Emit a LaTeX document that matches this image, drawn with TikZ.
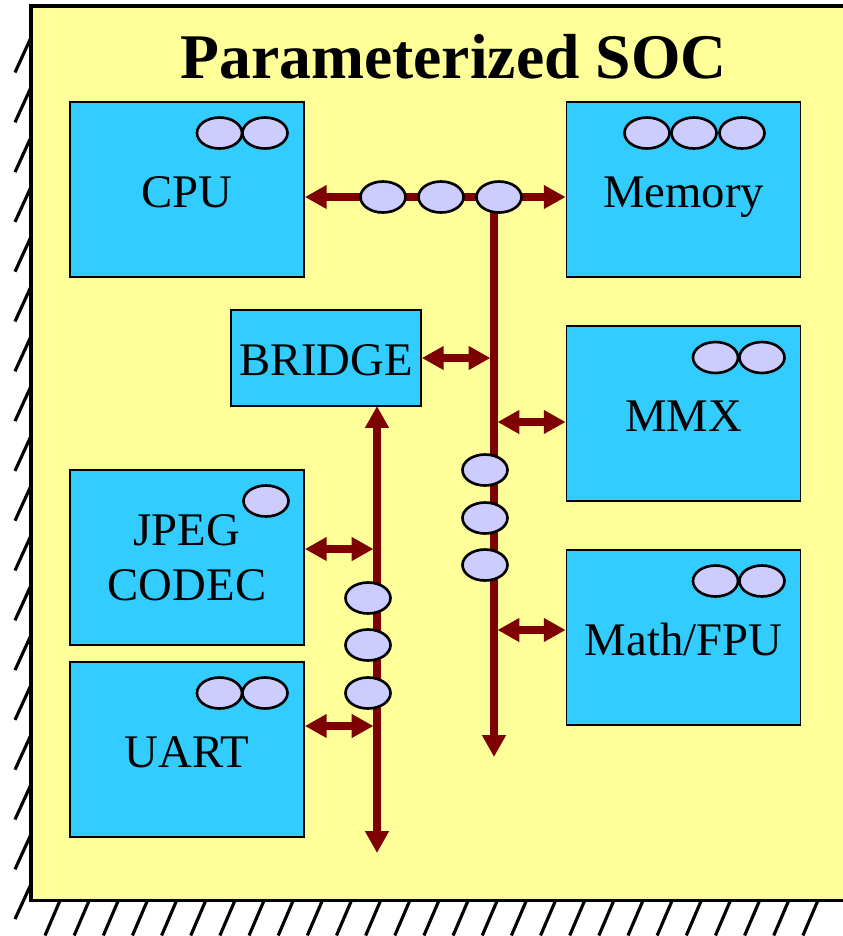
\documentclass[tikz,border=0pt]{standalone}
\usepackage{fontspec}
\setmainfont{Liberation Serif}
\usetikzlibrary{arrows.meta,shapes.geometric}
\definecolor{socyellow}{HTML}{FFFF99}
\definecolor{unitblue}{HTML}{33CCFF}
\definecolor{buscolor}{HTML}{7F0000}
\definecolor{tokencolor}{HTML}{CCCCFF}
\begin{document}
\begin{tikzpicture}[x=0.1mm, y=-0.1mm, >={Triangle[length=6.2pt,width=6.4pt]},
    unit/.style={draw, line width=0.5pt, fill=unitblue, minimum width=23.4mm, minimum height=17.5mm, inner sep=0pt, font=\fontsize{13.3}{15.6}\selectfont},
    lbl/.style={text height=10.2pt, text depth=0pt},
    token/.style={ellipse, draw, line width=0.75pt, fill=tokencolor, minimum width=4.5mm, minimum height=3.1mm, inner sep=0pt},
    bus/.style={buscolor, line width=2pt},
    hatch/.style={line width=0.9pt}]
  \useasboundingbox (0,0) rectangle (843,936);
  % chip outline with ground hatching
  \fill[socyellow] (31,5.7) rectangle (843,900.5);
  \draw[line width=1.1pt] (843,5.7) -- (31,5.7) -- (31,900.5) -- (843,900.5);
  \foreach \k in {0,...,17}
    \draw[hatch] (31,37.5+49.8*\k) -- ++(-16,35);
  \foreach \k in {0,...,26}
    \draw[hatch] (60+29.15*\k,900.5) -- ++(-15,35);
  \node[font=\fontsize{18.1}{21}\selectfont\bfseries, anchor=base] (title) at (453.5,78) {Parameterized SOC};

  % units
  \node[unit, lbl] (cpu) at (187,189.5) {CPU};
  \node[unit, lbl] (mem) at (683.5,189.5) {Memory};
  \node[unit, lbl] (mmx) at (683.5,413.5) {MMX};
  \node[unit, lbl] (fpu) at (683.5,637.5) {Math/FPU};
  \node[unit, align=center] (jpeg) at (187,557.5) {JPEG\\CODEC};
  \node[unit, lbl] (uart) at (187,749.5) {UART};
  \node[unit, lbl, minimum width=19mm, minimum height=9.6mm] (bridge) at (326,358) {BRIDGE};

  \foreach \x [count=\i] in {219.5,265} \node[token] (cpu t\i) at (\x,133) {};
  \foreach \x [count=\i] in {647,694,742} \node[token] (mem t\i) at (\x,133) {};
  \foreach \x [count=\i] in {715.5,762} \node[token] (mmx t\i) at (\x,357.5) {};
  \foreach \x [count=\i] in {715.5,762} \node[token] (fpu t\i) at (\x,581) {};
  \node[token] (jpeg t1) at (266,501) {};
  \foreach \x [count=\i] in {219.5,265} \node[token] (uart t\i) at (\x,693) {};

  % buses
  \coordinate (rtop) at (494,197);
  \coordinate (rend) at (494,757);
  \coordinate (ltop) at (377,406);
  \coordinate (lend) at (377,853);
  \coordinate (cpuout) at ([yshift=-0.75mm]cpu.east);
  \coordinate (memin) at ([yshift=-0.75mm]mem.west);
  \coordinate (mmxin) at ([yshift=-0.85mm]mmx.west);
  \coordinate (fpuin) at ([yshift=0.75mm]fpu.west);
  \coordinate (jpegout) at ([yshift=0.85mm]jpeg.east);
  \coordinate (uartout) at ([yshift=2.35mm]uart.east);

  \draw[bus, <->] (cpuout) -- (memin);
  \draw[bus, ->] (rtop) -- (rend);
  \draw[bus, <->] (ltop) -- (lend);
  \draw[bus, <->, shorten >=1pt] (bridge.east) -- (bridge.east -| rtop);
  \draw[bus, <->, shorten <=1pt] (mmxin -| rtop) -- (mmxin);
  \draw[bus, <->, shorten <=1pt] (fpuin -| rtop) -- (fpuin);
  \draw[bus, <->, shorten >=1pt] (jpegout) -- (jpegout -| lend);
  \draw[bus, <->, shorten >=1pt] (uartout) -- (uartout -| lend);

  \foreach \x [count=\i] in {383,441,499} \node[token] (hbus t\i) at (\x,197) {};
  \foreach \y [count=\i] in {470,518,565} \node[token] (rbus t\i) at (485,\y) {};
  \foreach \y [count=\i] in {598,645,693} \node[token] (lbus t\i) at (368,\y) {};
\end{tikzpicture}
\end{document}
